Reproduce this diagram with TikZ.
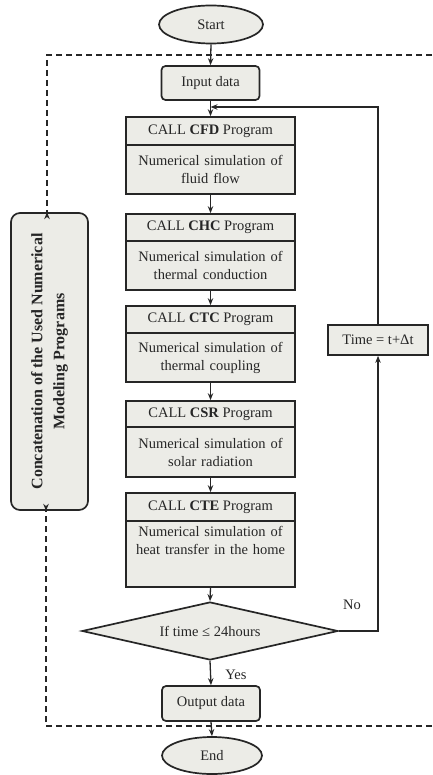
\documentclass[tikz,border=0pt]{standalone}
\usepackage{fontspec}
\setmainfont{Liberation Serif}
\usetikzlibrary{shapes.geometric,arrows.meta}
\definecolor{boxfill}{RGB}{236,236,231}
\definecolor{edge}{RGB}{38,38,38}
\begin{document}
\begin{tikzpicture}[x=1pt,y=-1pt,
  every node/.style={font=\fontsize{14.5}{18}\selectfont,text=edge},
  base/.style={draw=edge,line width=1.7pt,fill=boxfill,inner sep=0pt},
  oval/.style={base,ellipse},
  rbox/.style={base,rounded corners=4pt},
  hdr/.style={base,minimum width=169pt,align=center},
  body/.style={base,minimum width=169pt,text width=166pt,align=center},
  arr/.style={draw=edge,line width=1.3pt,-{Stealth[length=7pt,width=5.5pt]}},
  ln/.style={draw=edge,line width=1.3pt},
  dsh/.style={draw=edge,line width=1.4pt,dash pattern=on 6pt off 4pt},
  lbl/.style={inner sep=0pt}
]
\useasboundingbox (0,0) rectangle (432,775);

% terminals and io
\node[oval,minimum width=104pt,minimum height=38pt] (start) at (211,24.5) {Start};
\node[rbox,minimum width=98pt,minimum height=34pt] (input) at (210.5,83) {Input data};

% program blocks
\node[hdr,minimum height=28pt] (cfdh) at (210.5,131) {CALL \textbf{CFD} Program};
\node[body,minimum height=49pt] (cfdb) at (210.5,169.5) {Numerical simulation of\\fluid flow};
\node[hdr,minimum height=27pt] (chch) at (210.5,227.5) {CALL \textbf{CHC} Program};
\node[body,minimum height=49pt] (chcb) at (210.5,265.5) {Numerical simulation of\\thermal conduction};
\node[hdr,minimum height=27pt] (ctch) at (210.5,319.5) {CALL \textbf{CTC} Program};
\node[body,minimum height=49pt] (ctcb) at (210.5,357.5) {Numerical simulation of\\thermal coupling};
\node[hdr,minimum height=26pt] (csrh) at (210.5,414) {CALL \textbf{CSR} Program};
\node[body,minimum height=50pt] (csrb) at (210.5,452) {Numerical simulation of\\solar radiation};
\node[hdr,minimum height=28pt] (cteh) at (210.5,507) {CALL \textbf{CTE} Program};
\node[base,minimum width=169pt,minimum height=66pt] (cteb) at (210.5,554) {};
\node[lbl,text width=166pt,align=center,anchor=north] (ctet) at ([yshift=-6pt]cteb.north) {Numerical simulation of\\heat transfer in the home};

% decision
\node[base,diamond,aspect=4.4,minimum width=256pt,minimum height=58pt] (dec) at (210,631) {If time ≤ 24hours};
\node[rbox,minimum width=98pt,minimum height=35pt] (output) at (211,703.5) {Output data};
\node[oval,minimum width=100pt,minimum height=37pt] (end) at (212,755.5) {End};

% time step
\node[base,minimum width=100pt,minimum height=30pt] (time) at (378,340) {Time = t+Δt};

% concatenation box
\node[base,rounded corners=9pt,minimum width=77pt,minimum height=297pt] (concat) at (49.5,361.5) {};
\node[lbl,rotate=90,align=center,font=\fontsize{16}{22}\selectfont\bfseries] (ctext) at (concat.center) {Concatenation of the Used Numerical\\Modeling Programs};

% labels
\node[lbl] (no) at (352,605) {No};
\node[lbl] (yes) at (236,675) {Yes};

% coordinates
\coordinate (j) at (210.5,107);
\coordinate (tl) at (47,55);
\coordinate (tr) at (432,55);
\coordinate (bl) at (46,726);
\coordinate (br) at (432,726);

% connectors
\draw[arr] (start.south) -- (input.north);
\draw[arr] (input.south) -- (cfdh.north);
\draw[arr] (cfdb.south) -- (chch.north);
\draw[arr] (chcb.south) -- (ctch.north);
\draw[arr] (ctcb.south) -- (csrh.north);
\draw[arr] (csrb.south) -- (cteh.north);
\draw[arr] (cteb.south) -- (dec.north);
\draw[arr] (dec.south) -- (output.north);
\draw[arr] (output.south) -- (end.north);
\draw[arr] (dec.east) -| (time.south);
\draw[arr] (time.north) |- (j);

% dashed frame
\draw[dsh] (tr) -- (tl) -- ([yshift=-3pt]tl |- concat.north);
\draw[arr] ([yshift=-5pt]tl |- concat.north) -- (tl |- concat.north);
\draw[dsh] (br) -- (bl) -- ([yshift=3pt]bl |- concat.south);
\draw[arr] ([yshift=5pt]bl |- concat.south) -- (bl |- concat.south);
\end{tikzpicture}
\end{document}
